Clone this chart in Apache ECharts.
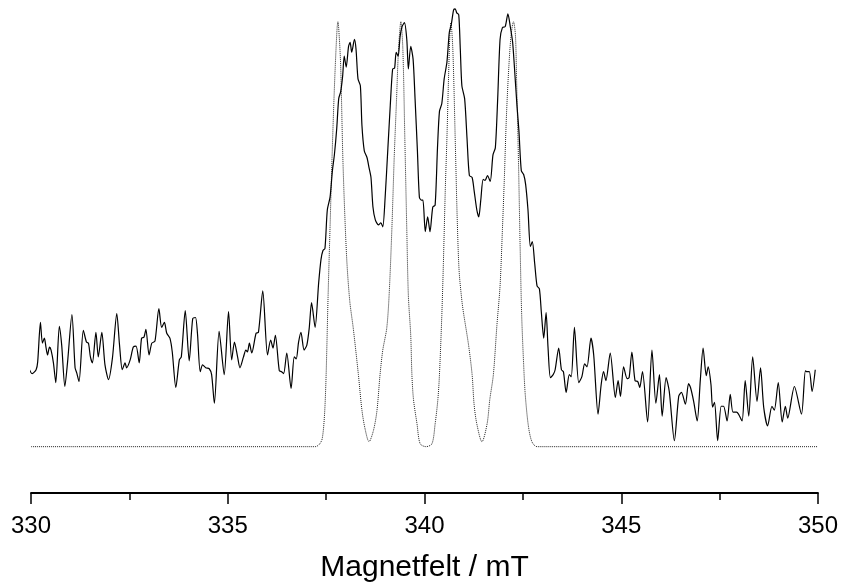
<!DOCTYPE html>
<html>
<head>
<meta charset="utf-8">
<script src="https://cdn.jsdelivr.net/npm/echarts@6/dist/echarts.min.js"></script>
<style>
html,body{margin:0;padding:0;background:#fff;}
#chart{width:842px;height:588px;}
</style>
</head>
<body>
<div id="chart"></div>
<script>
// Measured EPR spectrum (magnetic field in mT, intensity in arbitrary units)
var expField = [329.93,330.03,330.13,330.17,330.24,330.29,330.34,330.38,330.42,330.47,330.51,330.57,330.63,330.72,330.78,330.86,330.93,331.04,331.12,331.16,331.22,331.33,331.41,331.46,331.51,331.56,331.65,331.71,331.80,331.88,331.97,332.07,332.18,332.25,332.32,332.39,332.43,332.52,332.60,332.67,332.75,332.81,332.87,332.92,333.00,333.07,333.15,333.25,333.32,333.39,
333.45,333.53,333.59,333.68,333.77,333.82,333.92,334.02,334.11,334.18,334.23,334.30,334.36,334.44,334.53,334.59,334.66,334.78,334.91,335.02,335.10,335.17,335.25,335.31,335.40,335.46,335.50,335.55,335.61,335.72,335.78,335.89,336.01,336.09,336.15,336.21,336.31,336.37,336.42,336.50,336.61,
336.69,336.74,336.80,336.86,336.94,337.01,337.07,337.13,337.22,337.31,337.37,337.42,337.47,337.53,337.60,337.66,337.71,337.77,337.82,337.87,337.92,337.96,338.01,338.07,338.11,338.15,338.22,338.26,338.31,338.37,338.41,338.47,338.54,338.59,338.64,338.69,338.75,338.83,338.89,338.94,339.00,339.07,339.13,339.19,339.24,339.28,339.33,339.38,339.43,339.49,339.55,339.59,339.65,
339.71,339.76,339.82,339.87,339.92,339.96,340.02,340.08,340.14,340.21,340.27,340.33,340.38,340.44,340.50,340.57,340.63,340.68,340.74,340.78,340.82,340.87,340.91,340.95,341.02,341.08,341.14,341.21,341.26,341.33,341.38,341.43,341.49,341.54,341.60,341.67,341.74,341.80,341.86,341.92,341.98,342.05,342.12,342.18,342.24,342.31,342.35,342.40,342.46,342.52,342.57,342.63,342.69,342.74,342.80,342.86,342.92,342.97,343.03,343.09,343.14,343.20,
343.27,343.32,343.41,343.48,343.53,343.60,343.68,343.73,343.81,343.92,344.00,344.07,344.13,344.23,344.30,344.41,344.49,344.55,344.61,344.72,344.85,344.92,344.98,345.06,345.15,345.20,345.27,345.35,345.42,345.47,345.54,345.67,345.78,345.88,345.97,346.04,346.14,346.22,346.35,346.46,346.53,346.63,346.71,
346.76,346.84,346.93,347.01,347.08,347.16,347.21,347.28,347.32,347.37,347.45,347.54,347.60,347.69,347.77,347.84,347.93,347.98,348.07,348.15,348.24,348.34,348.45,348.54,348.62,348.72,348.83,348.89,348.99,349.09,349.17,349.23,349.40,349.58,349.68,349.72,349.78,349.85,349.93];
var expIntensity = [81,74,78,86,126,105,110,101,93,101,98,85,65,122,103,61,86,134,80,75,66,118,106,105,91,85,116,91,116,83,68,90,135,103,78,85,80,88,101,102,85,110,111,119,93,105,107,140,121,126,
115,110,96,60,88,91,138,87,130,131,115,76,83,80,79,73,44,117,73,137,88,106,91,80,91,98,96,105,95,115,116,158,93,108,100,113,77,76,74,95,59,
91,89,106,116,98,103,120,146,121,166,190,199,201,240,253,280,296,323,353,360,376,396,385,406,410,400,413,403,373,366,326,300,293,283,273,243,230,225,227,223,253,303,346,383,384,400,396,416,426,430,413,383,406,
393,353,300,253,250,250,218,233,218,243,245,303,340,348,373,390,420,428,443,444,440,438,403,366,353,313,275,273,260,240,233,250,271,270,275,269,296,303,353,413,425,426,439,426,410,370,346,320,280,276,266,240,203,208,186,163,160,136,110,136,100,70,
73,78,100,78,76,55,73,71,121,65,71,84,81,110,93,33,63,76,67,95,50,67,51,81,69,70,96,67,66,60,76,25,98,44,73,31,70,56,6,51,55,43,64,
60,46,26,68,100,72,81,63,40,45,6,41,41,26,53,35,35,33,26,67,31,91,46,80,40,21,41,37,65,25,41,29,61,33,77,76,76,56,78];

// Simulated spectrum
var simField = [330.00,337.22,337.32,337.40,337.46,337.50,337.55,337.60,337.65,337.70,337.74,337.78,337.80,337.83,337.87,337.93,338.02,338.10,338.19,338.32,338.41,338.49,338.59,
338.70,338.79,338.87,338.94,339.04,339.10,339.17,339.23,339.29,339.34,339.40,339.45,339.50,339.55,339.59,339.65,339.68,339.72,339.81,339.89,340.04,340.19,
340.27,340.34,340.38,340.44,340.48,340.53,340.57,340.61,340.64,340.67,340.72,340.78,340.83,340.88,340.95,340.99,341.12,341.21,341.26,341.33,341.46,
341.59,341.66,341.75,341.84,341.92,341.98,342.03,342.08,342.14,342.20,342.26,342.31,342.34,342.39,342.43,342.47,342.52,342.56,342.64,342.73,342.86,350.00];
var simIntensity = [0,0,2,8,33,73,153,223,293,353,393,425,431,418,386,286,193,148,120,73,37,18,5,
16,36,73,98,120,153,220,293,353,403,431,403,313,220,153,113,73,48,23,3,0,3,
23,48,73,133,186,263,313,373,413,430,403,313,233,178,148,136,103,73,43,23,5,
23,48,73,123,163,220,273,333,383,417,431,418,373,286,203,133,83,53,21,5,0,0];

var xTicks = {min: 330, max: 350, interval: 5};
var xTitle = 'Magnetfelt / mT';

function pairs(xs, ys) { return xs.map(function (x, i) { return [x, ys[i]]; }); }

var chart = echarts.init(document.getElementById('chart'), null, {renderer: 'canvas'});
chart.setOption({
  animation: false,
  backgroundColor: '#ffffff',
  grid: {left: 31, right: 24, top: 0, bottom: 88, containLabel: false},
  xAxis: {
    type: 'value',
    min: xTicks.min, max: xTicks.max, interval: xTicks.interval,
    name: xTitle,
    nameLocation: 'middle',
    nameGap: 60,
    nameTextStyle: {fontFamily: 'Liberation Sans, Arial, sans-serif', fontSize: 30, color: '#000'},
    axisLine: {show: true, onZero: false, lineStyle: {color: '#000', width: 1.8}},
    axisTick: {show: true, inside: false, length: 11, lineStyle: {color: '#000', width: 1.5}},
    minorTick: {show: true, splitNumber: 2, length: 7, lineStyle: {color: '#000', width: 1.5}},
    axisLabel: {margin: 21, fontFamily: 'Liberation Sans, Arial, sans-serif', fontSize: 24, color: '#000'},
    splitLine: {show: false}
  },
  yAxis: {
    type: 'value', min: -47, max: 453, show: false, splitLine: {show: false}
  },
  series: [
    {
      name: 'Simulert', type: 'line', data: pairs(simField, simIntensity),
      showSymbol: false, smooth: 0.3, clip: false,
      lineStyle: {color: '#222', width: 1, type: [1, 1]}
    },
    {
      name: 'Målt', type: 'line', data: pairs(expField, expIntensity),
      showSymbol: false, smooth: 0.25, clip: false,
      lineStyle: {color: '#000', width: 1.2}
    }
  ]
});
</script>
</body>
</html>
